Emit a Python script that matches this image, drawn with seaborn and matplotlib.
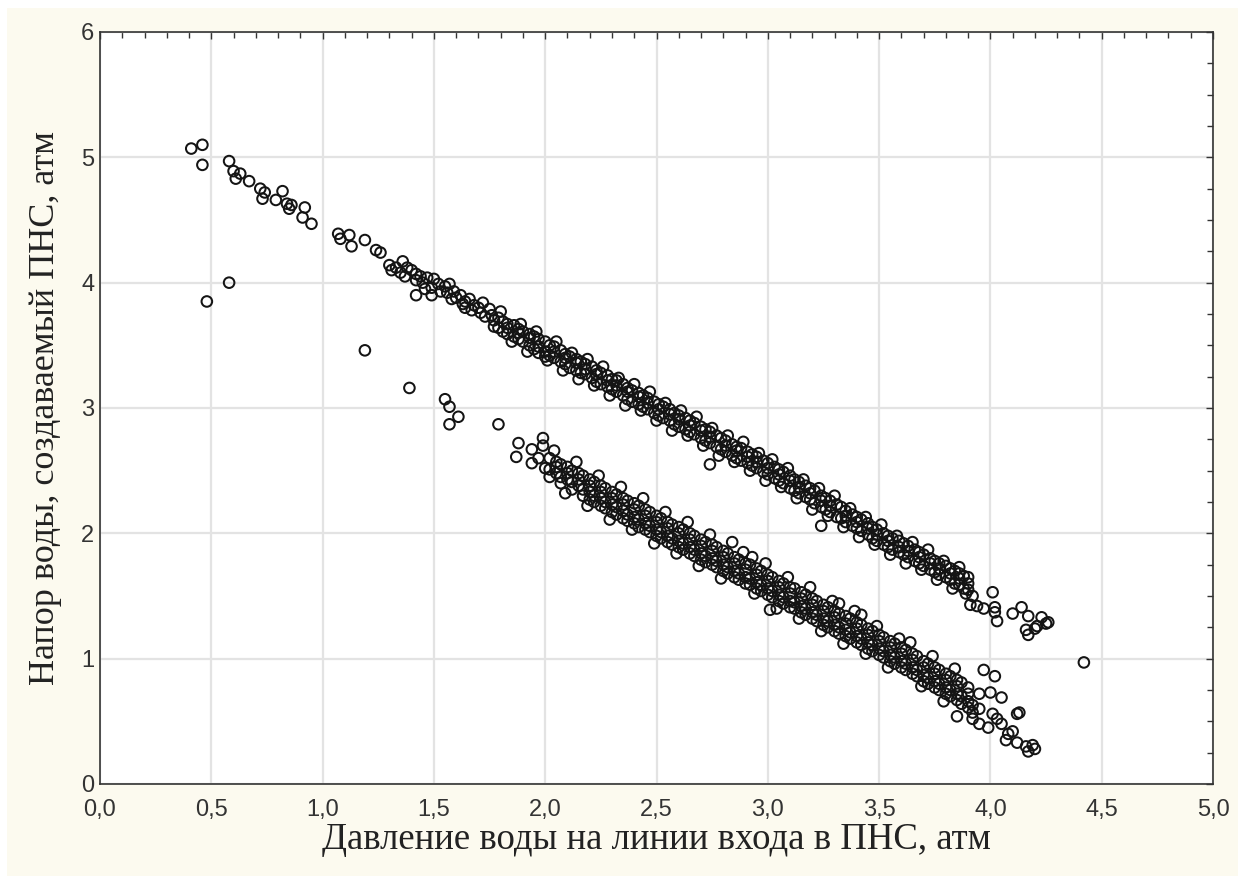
import matplotlib
matplotlib.use("Agg")
import matplotlib.pyplot as plt
from matplotlib.patches import Rectangle
from matplotlib.ticker import MultipleLocator, FuncFormatter
import seaborn as sns
import pandas as pd

# Upper branch: head vs. inlet pressure
upper_x = [
    0.41, 0.46, 0.46, 0.58, 0.60, 0.61, 0.63, 0.67, 0.72, 0.74, 0.73, 0.79, 0.82, 0.84, 0.85, 0.86, 0.92, 0.91, 0.95,
    1.07, 1.08, 1.12, 1.13, 1.19, 1.24, 1.26, 1.30, 1.31, 1.36, 1.38, 1.42, 1.42, 1.42, 1.44, 1.49, 1.49, 1.50, 1.55,
    1.59, 1.60, 1.64, 1.64, 1.70, 1.71, 1.72, 1.77, 1.77,
    1.33, 1.35, 1.37, 1.40, 1.45, 1.46, 1.47, 1.52, 1.53, 1.56, 1.57, 1.58, 1.62, 1.63, 1.66, 1.67, 1.68, 1.73, 1.75, 1.76,
    1.79, 1.79, 1.81, 1.81, 1.83, 1.83, 1.83, 1.86, 1.86, 1.88, 1.88, 1.88, 1.90, 1.90, 1.93, 1.93, 1.93, 1.95, 1.95,
    1.97, 1.97, 1.97, 2.00, 2.00, 2.00, 2.02, 2.02, 2.04, 2.04, 2.04, 2.07, 2.07, 2.09, 2.09, 2.09, 2.11, 2.11,
    2.14, 2.14, 2.14, 2.16, 2.16, 2.18, 2.18, 2.18, 2.21, 2.21, 2.23, 2.23, 2.23, 2.25, 2.25, 2.28, 2.28, 2.28,
    2.30, 2.30, 2.32, 2.32, 2.32, 2.35, 2.35, 2.37, 2.37, 2.37, 2.39, 2.39, 2.42, 2.42, 2.42, 2.44, 2.44,
    2.46, 2.46, 2.46, 2.49, 2.49, 2.51, 2.51, 2.51, 2.53, 2.53, 2.56, 2.56, 2.56, 2.58, 2.58, 2.60, 2.60, 2.60,
    2.63, 2.63, 2.65, 2.65, 2.65, 2.67, 2.67, 2.70, 2.70, 2.70, 2.72, 2.72, 2.74, 2.74, 2.74, 2.74, 2.77, 2.77,
    2.79, 2.79, 2.81, 2.81, 2.81, 2.84, 2.84, 2.86, 2.86, 2.86, 2.88, 2.88, 2.91, 2.91, 2.91, 2.93, 2.93,
    2.95, 2.95, 2.95, 2.98, 2.98, 3.00, 3.00, 3.00, 3.03, 3.03, 3.05, 3.05, 3.05, 3.07, 3.07, 3.10, 3.10, 3.10,
    3.12, 3.12, 3.14, 3.14, 3.14, 3.17, 3.17, 3.19, 3.19, 3.19, 3.21, 3.21, 3.24, 3.24, 3.24, 3.24, 3.26, 3.26,
    3.28, 3.28, 3.28, 3.31, 3.31, 3.33, 3.33, 3.35, 3.35, 3.35, 3.38, 3.38, 3.40, 3.40, 3.40, 3.42, 3.42,
    3.45, 3.45, 3.45, 3.47, 3.47, 3.49, 3.49, 3.49, 3.52, 3.52, 3.54, 3.54, 3.54, 3.56, 3.56, 3.59, 3.59, 3.59,
    3.61, 3.61, 3.63, 3.63, 3.63, 3.66, 3.66, 3.68, 3.68, 3.68, 3.70, 3.70, 3.73, 3.73, 3.73, 3.75, 3.75,
    3.77, 3.77, 3.77, 3.80, 3.80, 3.82, 3.82, 3.82, 3.84, 3.84, 3.86, 3.86, 3.86, 3.88, 3.88, 3.90, 3.90, 3.90,
    3.92, 3.91, 3.94, 3.97, 4.01, 4.02, 4.03, 4.02, 4.10, 4.14, 4.17, 4.17, 4.16, 4.21, 4.23, 4.25, 4.20, 4.26,
    1.80, 1.85, 1.89, 1.92, 1.96, 2.01, 2.05, 2.08, 2.12, 2.15, 2.19, 2.22, 2.26, 2.29, 2.33, 2.36, 2.40, 2.43,
    2.47, 2.50, 2.54, 2.57, 2.61, 2.64, 2.68, 2.71, 2.75, 2.78, 2.82, 2.85, 2.89, 2.92, 2.96, 2.99, 3.02, 3.06,
    3.09, 3.13, 3.16, 3.20, 3.23, 3.27, 3.30, 3.34, 3.37, 3.41, 3.44, 3.48, 3.51, 3.55, 3.58, 3.62, 3.65, 3.69,
    3.72, 3.76, 3.79, 3.83, 3.86, 3.89,
]
upper_y = [
    5.07, 5.10, 4.94, 4.97, 4.89, 4.83, 4.87, 4.81, 4.75, 4.72, 4.67, 4.66, 4.73, 4.63, 4.59, 4.62, 4.60, 4.52, 4.47,
    4.39, 4.35, 4.38, 4.29, 4.34, 4.26, 4.24, 4.14, 4.10, 4.17, 4.12, 4.07, 4.02, 3.90, 4.05, 3.96, 3.90, 4.03, 3.97,
    3.93, 3.88, 3.85, 3.80, 3.80, 3.76, 3.84, 3.70, 3.65,
    4.12, 4.08, 4.05, 4.10, 4.00, 3.95, 4.04, 3.99, 3.93, 3.92, 3.99, 3.87, 3.90, 3.83, 3.87, 3.78, 3.82, 3.73, 3.79, 3.74,
    3.72, 3.64, 3.69, 3.61, 3.67, 3.59, 3.64, 3.66, 3.57, 3.63, 3.55, 3.60, 3.61, 3.53, 3.59, 3.50, 3.56, 3.57, 3.47,
    3.55, 3.49, 3.44, 3.53, 3.45, 3.41, 3.50, 3.42, 3.49, 3.40, 3.45, 3.46, 3.37, 3.43, 3.35, 3.40, 3.41, 3.32,
    3.39, 3.30, 3.36, 3.37, 3.28, 3.35, 3.27, 3.31, 3.33, 3.24, 3.30, 3.21, 3.27, 3.28, 3.19, 3.26, 3.17, 3.22,
    3.23, 3.15, 3.22, 3.13, 3.18, 3.19, 3.10, 3.16, 3.07, 3.13, 3.14, 3.05, 3.12, 3.03, 3.09, 3.10, 3.01,
    3.08, 2.99, 3.04, 3.05, 2.96, 3.03, 2.94, 2.99, 3.01, 2.92, 2.99, 2.90, 2.95, 2.96, 2.87, 2.94, 2.85, 2.91,
    2.92, 2.83, 2.90, 2.81, 2.86, 2.88, 2.79, 2.85, 2.76, 2.82, 2.83, 2.74, 2.81, 2.72, 2.77, 2.55, 2.78, 2.69,
    2.76, 2.67, 2.74, 2.65, 2.70, 2.71, 2.62, 2.69, 2.60, 2.66, 2.68, 2.58, 2.65, 2.56, 2.61, 2.63, 2.54,
    2.61, 2.52, 2.57, 2.58, 2.49, 2.56, 2.47, 2.52, 2.53, 2.44, 2.51, 2.42, 2.47, 2.49, 2.40, 2.46, 2.36, 2.42,
    2.43, 2.34, 2.41, 2.32, 2.37, 2.38, 2.29, 2.36, 2.27, 2.32, 2.34, 2.24, 2.30, 2.21, 2.26, 2.06, 2.28, 2.19,
    2.26, 2.17, 2.22, 2.23, 2.13, 2.21, 2.12, 2.18, 2.09, 2.14, 2.15, 2.06, 2.13, 2.04, 2.09, 2.11, 2.02,
    2.08, 1.99, 2.04, 2.05, 1.96, 2.03, 1.94, 1.99, 2.00, 1.91, 1.98, 1.89, 1.94, 1.96, 1.87, 1.94, 1.85, 1.89,
    1.92, 1.83, 1.90, 1.81, 1.86, 1.87, 1.78, 1.85, 1.76, 1.81, 1.83, 1.74, 1.80, 1.71, 1.76, 1.78, 1.69,
    1.76, 1.67, 1.72, 1.74, 1.65, 1.72, 1.63, 1.68, 1.70, 1.60, 1.68, 1.59, 1.64, 1.66, 1.56, 1.65, 1.55, 1.60,
    1.50, 1.43, 1.42, 1.40, 1.53, 1.41, 1.30, 1.37, 1.36, 1.41, 1.34, 1.19, 1.23, 1.26, 1.33, 1.28, 1.24, 1.29,
    3.77, 3.53, 3.67, 3.45, 3.61, 3.38, 3.53, 3.30, 3.44, 3.23, 3.39, 3.18, 3.33, 3.10, 3.24, 3.02, 3.19, 2.98,
    3.13, 2.90, 3.04, 2.82, 2.98, 2.78, 2.93, 2.70, 2.84, 2.62, 2.78, 2.57, 2.73, 2.50, 2.64, 2.42, 2.59, 2.37,
    2.52, 2.28, 2.43, 2.19, 2.36, 2.14, 2.30, 2.05, 2.20, 1.97, 2.13, 1.91, 2.07, 1.83, 1.98, 1.76, 1.93, 1.71,
    1.87, 1.63, 1.78, 1.56, 1.73, 1.52,
]

# Lower branch
lower_x = [
    1.88, 1.87, 1.94, 1.94, 1.99, 1.99, 2.00, 1.97,
    2.02, 2.02, 2.02, 2.05, 2.05, 2.05, 2.07, 2.07, 2.07, 2.10, 2.10, 2.10, 2.12, 2.12, 2.12,
    2.15, 2.15, 2.15, 2.17, 2.17, 2.17, 2.20, 2.20, 2.20, 2.20, 2.22, 2.22, 2.22,
    2.25, 2.25, 2.25, 2.25, 2.27, 2.27, 2.27, 2.30, 2.30, 2.30, 2.30, 2.32, 2.32, 2.32,
    2.35, 2.35, 2.35, 2.35, 2.37, 2.37, 2.37, 2.40, 2.40, 2.40, 2.40, 2.42, 2.42, 2.42,
    2.45, 2.45, 2.45, 2.45, 2.47, 2.47, 2.47, 2.50, 2.50, 2.50, 2.50, 2.52, 2.52, 2.52,
    2.55, 2.55, 2.55, 2.55, 2.57, 2.57, 2.57, 2.60, 2.60, 2.60, 2.60, 2.62, 2.62, 2.62,
    2.65, 2.65, 2.65, 2.65, 2.67, 2.67, 2.67, 2.70, 2.70, 2.70, 2.70, 2.72, 2.72, 2.72,
    2.75, 2.75, 2.75, 2.75, 2.77, 2.77, 2.77, 2.80, 2.80, 2.80, 2.80, 2.82, 2.82, 2.82,
    2.85, 2.85, 2.85, 2.85, 2.84, 2.87, 2.87, 2.87, 2.90, 2.90, 2.90, 2.90, 2.92, 2.92, 2.92,
    2.95, 2.95, 2.95, 2.95, 2.93, 2.97, 2.97, 2.97, 3.00, 3.00, 3.00, 3.00, 3.02, 3.02, 3.02, 3.01,
    3.05, 3.05, 3.05, 3.05, 3.07, 3.07, 3.07, 3.10, 3.10, 3.10, 3.10, 3.12, 3.12, 3.12,
    3.15, 3.15, 3.15, 3.15, 3.17, 3.17, 3.17, 3.20, 3.20, 3.20, 3.20, 3.22, 3.22, 3.22,
    3.25, 3.25, 3.25, 3.25, 3.27, 3.27, 3.27, 3.30, 3.30, 3.30, 3.30, 3.32, 3.32, 3.32, 3.32,
    3.35, 3.35, 3.35, 3.35, 3.37, 3.37, 3.37, 3.40, 3.40, 3.40, 3.40, 3.42, 3.42, 3.42, 3.42,
    3.45, 3.45, 3.45, 3.45, 3.47, 3.47, 3.47, 3.49, 3.50, 3.50, 3.50, 3.50, 3.52, 3.52, 3.52,
    3.55, 3.55, 3.55, 3.55, 3.57, 3.57, 3.57, 3.59, 3.60, 3.60, 3.60, 3.60, 3.62, 3.62, 3.62,
    3.65, 3.65, 3.65, 3.65, 3.67, 3.67, 3.67, 3.70, 3.70, 3.70, 3.70, 3.72, 3.72, 3.72,
    3.75, 3.75, 3.75, 3.75, 3.77, 3.77, 3.77, 3.80, 3.80, 3.80, 3.80, 3.82, 3.82, 3.82,
    3.85, 3.85, 3.85, 3.85, 3.87, 3.87, 3.87, 3.90, 3.90, 3.90, 3.90, 3.85, 3.92, 3.92, 3.92,
    3.95, 3.95, 3.95, 3.97, 4.02, 3.99, 4.00, 4.05, 4.01, 4.05, 4.07, 4.10, 4.13, 4.08, 4.12,
    4.17, 4.19, 4.20, 4.16, 4.03, 4.12,
    2.04, 2.09, 2.14, 2.19, 2.24, 2.29, 2.34, 2.39, 2.44, 2.49, 2.54, 2.59, 2.64, 2.69, 2.74, 2.79, 2.89,
    2.94, 2.99, 3.04, 3.09, 3.14, 3.19, 3.24, 3.29, 3.34, 3.39, 3.44, 3.54, 3.64, 3.69, 3.74, 3.79, 3.84,
]
lower_y = [
    2.72, 2.61, 2.67, 2.56, 2.76, 2.70, 2.52, 2.60,
    2.60, 2.51, 2.45, 2.57, 2.48, 2.53, 2.55, 2.45, 2.40, 2.53, 2.43, 2.48, 2.50, 2.41, 2.35,
    2.48, 2.38, 2.43, 2.46, 2.35, 2.30, 2.43, 2.33, 2.38, 2.27, 2.41, 2.30, 2.25,
    2.38, 2.28, 2.33, 2.22, 2.36, 2.25, 2.20, 2.33, 2.23, 2.28, 2.17, 2.31, 2.21, 2.15,
    2.28, 2.18, 2.23, 2.12, 2.26, 2.15, 2.10, 2.24, 2.13, 2.19, 2.08, 2.22, 2.11, 2.05,
    2.19, 2.08, 2.14, 2.03, 2.17, 2.06, 2.01, 2.14, 2.03, 2.09, 1.98, 2.12, 2.01, 1.96,
    2.09, 1.98, 2.04, 1.93, 2.07, 1.96, 1.91, 2.05, 1.94, 2.00, 1.89, 2.03, 1.92, 1.87,
    2.00, 1.89, 1.95, 1.84, 1.98, 1.87, 1.82, 1.95, 1.84, 1.90, 1.79, 1.93, 1.82, 1.77,
    1.91, 1.80, 1.86, 1.75, 1.89, 1.78, 1.73, 1.86, 1.75, 1.81, 1.70, 1.84, 1.73, 1.68,
    1.81, 1.70, 1.76, 1.65, 1.93, 1.79, 1.68, 1.63, 1.76, 1.65, 1.71, 1.60, 1.75, 1.64, 1.59,
    1.72, 1.61, 1.67, 1.56, 1.81, 1.70, 1.59, 1.54, 1.67, 1.56, 1.62, 1.51, 1.65, 1.54, 1.49, 1.39,
    1.62, 1.51, 1.57, 1.46, 1.60, 1.49, 1.44, 1.57, 1.46, 1.52, 1.41, 1.56, 1.45, 1.40,
    1.53, 1.42, 1.48, 1.37, 1.51, 1.40, 1.35, 1.48, 1.37, 1.43, 1.32, 1.46, 1.35, 1.30,
    1.43, 1.32, 1.38, 1.27, 1.41, 1.30, 1.25, 1.38, 1.27, 1.33, 1.22, 1.36, 1.25, 1.20, 1.44,
    1.34, 1.23, 1.28, 1.18, 1.32, 1.21, 1.16, 1.29, 1.18, 1.24, 1.13, 1.27, 1.16, 1.11, 1.35,
    1.24, 1.13, 1.19, 1.08, 1.22, 1.11, 1.06, 1.26, 1.19, 1.08, 1.14, 1.03, 1.17, 1.06, 1.01,
    1.14, 1.03, 1.09, 0.98, 1.12, 1.01, 0.96, 1.16, 1.09, 0.98, 1.04, 0.93, 1.07, 0.96, 0.91,
    1.04, 0.93, 0.99, 0.88, 1.02, 0.91, 0.86, 0.98, 0.87, 0.93, 0.82, 0.96, 0.85, 0.80,
    0.93, 0.82, 0.88, 0.77, 0.91, 0.80, 0.75, 0.88, 0.77, 0.83, 0.72, 0.86, 0.75, 0.70,
    0.83, 0.72, 0.78, 0.67, 0.81, 0.70, 0.64, 0.77, 0.66, 0.72, 0.61, 0.54, 0.63, 0.57, 0.52,
    0.72, 0.60, 0.48, 0.91, 0.86, 0.45, 0.73, 0.69, 0.56, 0.48, 0.35, 0.42, 0.57, 0.40, 0.33,
    0.26, 0.31, 0.28, 0.30, 0.52, 0.56,
    2.66, 2.32, 2.57, 2.22, 2.46, 2.11, 2.37, 2.03, 2.28, 1.92, 2.17, 1.84, 2.09, 1.74, 1.99, 1.64, 1.85,
    1.52, 1.76, 1.40, 1.65, 1.32, 1.57, 1.22, 1.46, 1.12, 1.38, 1.04, 0.93, 1.13, 0.78, 1.02, 0.66, 0.92,
]

# Isolated readings between and beyond the branches
stray_x = [0.48, 0.58, 1.19, 1.39, 1.55, 1.57, 1.61, 1.57, 1.79, 4.42]
stray_y = [3.85, 4.00, 3.46, 3.16, 3.07, 3.01, 2.93, 2.87, 2.87, 0.97]

x_label = "Давление воды на линии входа в ПНС, атм"
y_label = "Напор воды, создаваемый ПНС, атм"

df = pd.DataFrame({
    "p_in": upper_x + lower_x + stray_x,
    "head": upper_y + lower_y + stray_y,
})

sns.set_style("white")
plt.rcParams["font.family"] = ["Liberation Sans", "DejaVu Sans"]

fig = plt.figure(figsize=(12.46, 8.84), dpi=100, facecolor="white")
fig.patches.append(Rectangle((7 / 1246, 8 / 884), 1231 / 1246, 868 / 884,
                             transform=fig.transFigure, facecolor="#fcfaef",
                             edgecolor="none", zorder=-10))
ax = fig.add_axes([100 / 1246, 1 - 784 / 884, 1113 / 1246, 752 / 884])
ax.set_facecolor("white")

sns.scatterplot(data=df, x="p_in", y="head", ax=ax, marker="o", s=58,
                facecolor="none", edgecolor="#141414", linewidth=1.45, zorder=3)

ax.set_xlim(0, 5)
ax.set_ylim(0, 6)
ax.xaxis.set_major_locator(MultipleLocator(0.5))
ax.xaxis.set_minor_locator(MultipleLocator(0.1))
ax.yaxis.set_major_locator(MultipleLocator(1))
ax.yaxis.set_minor_locator(MultipleLocator(0.25))
ax.xaxis.set_major_formatter(FuncFormatter(lambda v, _: f"{v:.1f}".replace(".", ",")))
ax.yaxis.set_major_formatter(FuncFormatter(lambda v, _: f"{v:.0f}"))

ax.grid(True, which="major", color="#e3e3e3", linewidth=1.6, zorder=0)
ax.set_axisbelow(True)
ax.tick_params(which="both", direction="in", top=True, right=True,
               color="#333333", labelsize=17, labelcolor="#333333")
ax.tick_params(which="major", length=5, width=1.0)
ax.tick_params(which="minor", length=4, width=1.0)
ax.tick_params(axis="x", which="major", pad=11)
ax.tick_params(axis="y", which="major", pad=4)
for sp in ax.spines.values():
    sp.set_color("#333333")
    sp.set_linewidth(1.2)

ax.set_xlabel(x_label, fontsize=26.5, family=["Liberation Serif"], color="#222222", labelpad=1)
ax.set_ylabel(y_label, fontsize=26, family=["Liberation Serif"], color="#222222", labelpad=14)

fig.savefig("out.png", dpi=100, facecolor=fig.get_facecolor())
